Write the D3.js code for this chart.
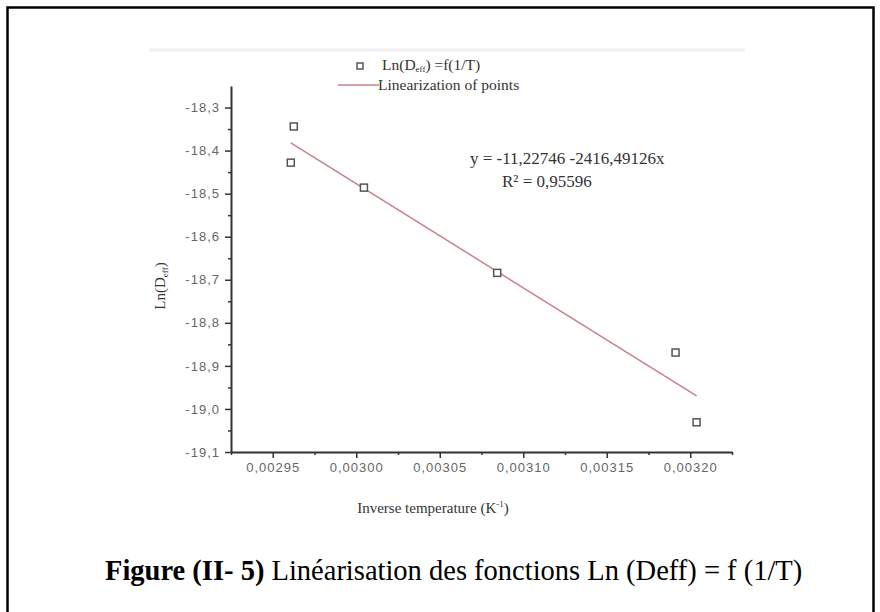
<!DOCTYPE html>
<html>
<head>
<meta charset="utf-8">
<script src="https://cdn.jsdelivr.net/npm/d3@7"></script>
<style>
  body { margin: 0; background: #fff; }
  svg { display: block; }
</style>
</head>
<body>
<script>
// data
var invT = [0.0029626, 0.0029608, 0.0030046, 0.0030844, 0.0031912, 0.0032038];
var lnDeff = [-18.344, -18.428, -18.486, -18.684, -18.869, -19.031];
var fitCoef = [-11.22746, -2416.49126];   // intercept, slope
var xTicks = [0.00295, 0.00300, 0.00305, 0.00310, 0.00315, 0.00320];
var yTicks = [-18.3, -18.4, -18.5, -18.6, -18.7, -18.8, -18.9, -19.0, -19.1];
var equationText = ["y = -11,22746 -2416,49126x", "R\u00b2 = 0,95596"];

var W = 880, H = 612;
var svg = d3.select("body").append("svg")
    .attr("width", W)
    .attr("height", H);

// outer frame
svg.append("rect")
    .attr("x", 7.5).attr("y", 7.5)
    .attr("width", 866).attr("height", 610)
    .attr("fill", "none")
    .attr("stroke", "#000")
    .attr("stroke-width", 2.5);

// faint top edge of the pasted picture
svg.append("line")
    .attr("x1", 149).attr("x2", 745)
    .attr("y1", 50).attr("y2", 50)
    .attr("stroke", "#f0f0f0")
    .attr("stroke-width", 3);

var x = d3.scaleLinear().domain([0.002925, 0.003225]).range([231, 732]);
var y = d3.scaleLinear().domain([-19.1, -18.25]).range([452, 86]);

var comma = function (f) {
    return function (d) {
        return d3.format(f)(d).replace(".", ",").replace("\u2212", "-");
    };
};

// minor ticks
var xMinor = d3.range(0.002925, 0.003226, 0.00005);
var yMinor = d3.range(-19.05, -18.26, 0.1);

svg.append("g")
    .attr("transform", "translate(0,452)")
    .call(d3.axisBottom(x).tickValues(xTicks).tickFormat(comma(".5f"))
        .tickSize(6).tickSizeOuter(0).tickPadding(5));
svg.append("g")
    .attr("transform", "translate(0,452)")
    .call(d3.axisBottom(x).tickValues(xMinor).tickFormat("").tickSize(3).tickSizeOuter(0))
    .select(".domain").remove();

svg.append("g")
    .attr("transform", "translate(231,0)")
    .call(d3.axisLeft(y).tickValues(yTicks).tickFormat(comma(".1f"))
        .tickSize(6).tickSizeOuter(0).tickPadding(5));
svg.append("g")
    .attr("transform", "translate(231,0)")
    .call(d3.axisLeft(y).tickValues(yMinor).tickFormat("").tickSize(3).tickSizeOuter(0))
    .select(".domain").remove();

svg.selectAll(".domain")
    .attr("stroke", "#333")
    .attr("stroke-width", 2);
svg.selectAll(".tick line")
    .attr("stroke", "#333")
    .attr("stroke-width", 1.5);
svg.selectAll(".tick text")
    .attr("font-family", "Liberation Sans, Arial, sans-serif")
    .attr("font-size", 13)
    .attr("letter-spacing", 1)
    .attr("fill", "#666");

// fitted line across the data range
var xr = d3.extent(invT);
svg.append("path")
    .datum(xr)
    .attr("fill", "none")
    .attr("stroke", "#c98088")
    .attr("stroke-width", 1.5)
    .attr("d", d3.line()
        .x(function (d) { return x(d); })
        .y(function (d) { return y(fitCoef[0] + fitCoef[1] * d); }));

// data points
svg.append("g")
    .selectAll("rect")
    .data(invT)
    .enter()
    .append("rect")
    .attr("x", function (d) { return x(d) - 3.5; })
    .attr("y", function (d, i) { return y(lnDeff[i]) - 3.5; })
    .attr("width", 7)
    .attr("height", 7)
    .attr("fill", "#fff")
    .attr("stroke", "#555")
    .attr("stroke-width", 1.5);

var serif = "Liberation Serif, Times New Roman, serif";

// legend
svg.append("rect")
    .attr("x", 357).attr("y", 63)
    .attr("width", 6).attr("height", 6)
    .attr("fill", "#fff").attr("stroke", "#555").attr("stroke-width", 1.5);
var l1 = svg.append("text")
    .attr("x", 382).attr("y", 70)
    .attr("font-family", serif).attr("font-size", 15.5).attr("fill", "#333");
l1.append("tspan").text("Ln(D");
l1.append("tspan").attr("font-size", 9).attr("dy", 2).text("eff");
l1.append("tspan").attr("dy", -2).text(") =f(1/T)");
svg.append("line")
    .attr("x1", 338).attr("x2", 379)
    .attr("y1", 85).attr("y2", 85)
    .attr("stroke", "#c98088").attr("stroke-width", 1.5);
svg.append("text")
    .attr("x", 378).attr("y", 90)
    .attr("font-family", serif).attr("font-size", 15.5).attr("fill", "#333")
    .text("Linearization of points");

// equation
svg.append("text")
    .attr("x", 470).attr("y", 164)
    .attr("font-family", serif).attr("font-size", 17).attr("fill", "#333")
    .text(equationText[0]);
svg.append("text")
    .attr("x", 502).attr("y", 187)
    .attr("font-family", serif).attr("font-size", 17).attr("fill", "#333")
    .text(equationText[1]);

// axis titles
var yl = svg.append("text")
    .attr("transform", "translate(165,286) rotate(-90)")
    .attr("text-anchor", "middle")
    .attr("font-family", serif).attr("font-size", 15).attr("fill", "#333");
yl.append("tspan").text("Ln(D");
yl.append("tspan").attr("font-size", 9).attr("dy", 3).text("eff");
yl.append("tspan").attr("dy", -3).text(")");

var xl = svg.append("text")
    .attr("x", 433).attr("y", 513)
    .attr("text-anchor", "middle")
    .attr("font-family", serif).attr("font-size", 15).attr("fill", "#333");
xl.append("tspan").text("Inverse temperature (K");
xl.append("tspan").attr("font-size", 9).attr("dy", -6).text("-1");
xl.append("tspan").attr("dy", 6).text(")");

// caption
var cap = svg.append("text")
    .attr("x", 105).attr("y", 580)
    .attr("font-family", serif).attr("font-size", 28.5).attr("fill", "#000");
cap.append("tspan").attr("font-weight", "bold").text("Figure (II- 5)");
cap.append("tspan").text(" Linéarisation des fonctions Ln (Deff) = f (1/T)");
</script>
</body>
</html>
